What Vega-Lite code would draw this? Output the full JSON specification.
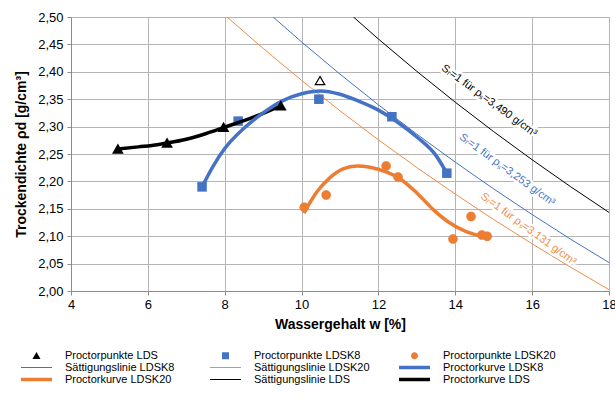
{
  "$schema": "https://vega.github.io/schema/vega-lite/v6.json",
  "width": 538,
  "height": 274,
  "autosize": {"type": "none"},
  "padding": {"left": 71, "top": 17, "right": 6, "bottom": 114},
  "background": "white",
  "config": {
    "font": "Liberation Sans",
    "view": {"stroke": "#b4b4b4", "strokeWidth": 1},
    "axis": {
      "labelFont": "Liberation Sans",
      "labelFontSize": 13,
      "labelColor": "black",
      "titleFont": "Liberation Sans",
      "titleFontSize": 14,
      "titleFontWeight": "bold",
      "titleColor": "black",
      "domainColor": "#8c8c8c",
      "tickColor": "#8c8c8c",
      "gridColor": "#b4b4b4",
      "grid": true,
      "tickSize": 4,
      "labelOverlap": false,
      "labelFlush": false
    }
  },
  "data": {
    "values": [
      {"t": "sat", "s": "Sättigungslinie LDS", "w": 11.35, "rho": 2.5},
      {"t": "sat", "s": "Sättigungslinie LDS", "w": 12, "rho": 2.4598},
      {"t": "sat", "s": "Sättigungslinie LDS", "w": 13, "rho": 2.4008},
      {"t": "sat", "s": "Sättigungslinie LDS", "w": 14, "rho": 2.3445},
      {"t": "sat", "s": "Sättigungslinie LDS", "w": 15, "rho": 2.2908},
      {"t": "sat", "s": "Sättigungslinie LDS", "w": 16, "rho": 2.2395},
      {"t": "sat", "s": "Sättigungslinie LDS", "w": 17, "rho": 2.1904},
      {"t": "sat", "s": "Sättigungslinie LDS", "w": 18, "rho": 2.1434},
      {"t": "sat", "s": "Sättigungslinie LDSK8", "w": 9.26, "rho": 2.5},
      {"t": "sat", "s": "Sättigungslinie LDSK8", "w": 10, "rho": 2.4545},
      {"t": "sat", "s": "Sättigungslinie LDSK8", "w": 11, "rho": 2.3957},
      {"t": "sat", "s": "Sättigungslinie LDSK8", "w": 12, "rho": 2.3397},
      {"t": "sat", "s": "Sättigungslinie LDSK8", "w": 13, "rho": 2.2862},
      {"t": "sat", "s": "Sättigungslinie LDSK8", "w": 14, "rho": 2.2351},
      {"t": "sat", "s": "Sättigungslinie LDSK8", "w": 15, "rho": 2.1862},
      {"t": "sat", "s": "Sättigungslinie LDSK8", "w": 16, "rho": 2.1395},
      {"t": "sat", "s": "Sättigungslinie LDSK8", "w": 17, "rho": 2.0946},
      {"t": "sat", "s": "Sättigungslinie LDSK8", "w": 18, "rho": 2.0519},
      {"t": "sat", "s": "Sättigungslinie LDSK20", "w": 8.06, "rho": 2.5},
      {"t": "sat", "s": "Sättigungslinie LDSK20", "w": 9, "rho": 2.4427},
      {"t": "sat", "s": "Sättigungslinie LDSK20", "w": 10, "rho": 2.3844},
      {"t": "sat", "s": "Sättigungslinie LDSK20", "w": 11, "rho": 2.3289},
      {"t": "sat", "s": "Sättigungslinie LDSK20", "w": 12, "rho": 2.2759},
      {"t": "sat", "s": "Sättigungslinie LDSK20", "w": 13, "rho": 2.2253},
      {"t": "sat", "s": "Sättigungslinie LDSK20", "w": 14, "rho": 2.1768},
      {"t": "sat", "s": "Sättigungslinie LDSK20", "w": 15, "rho": 2.1304},
      {"t": "sat", "s": "Sättigungslinie LDSK20", "w": 16, "rho": 2.086},
      {"t": "sat", "s": "Sättigungslinie LDSK20", "w": 17, "rho": 2.0434},
      {"t": "sat", "s": "Sättigungslinie LDSK20", "w": 18, "rho": 2.0025},
      {"t": "pt", "s": "Proctorpunkte LDS", "w": 5.22, "rho": 2.259},
      {"t": "pt", "s": "Proctorpunkte LDS", "w": 6.5, "rho": 2.27},
      {"t": "pt", "s": "Proctorpunkte LDS", "w": 7.97, "rho": 2.299},
      {"t": "pt", "s": "Proctorpunkte LDS", "w": 9.46, "rho": 2.338},
      {"t": "pt", "s": "Proctorpunkte LDSK8", "w": 7.41, "rho": 2.19},
      {"t": "pt", "s": "Proctorpunkte LDSK8", "w": 8.35, "rho": 2.31},
      {"t": "pt", "s": "Proctorpunkte LDSK8", "w": 10.45, "rho": 2.35},
      {"t": "pt", "s": "Proctorpunkte LDSK8", "w": 12.35, "rho": 2.318},
      {"t": "pt", "s": "Proctorpunkte LDSK8", "w": 13.78, "rho": 2.215},
      {"t": "pt", "s": "Proctorpunkte LDSK20", "w": 10.07, "rho": 2.153},
      {"t": "pt", "s": "Proctorpunkte LDSK20", "w": 10.64, "rho": 2.175},
      {"t": "pt", "s": "Proctorpunkte LDSK20", "w": 12.2, "rho": 2.228},
      {"t": "pt", "s": "Proctorpunkte LDSK20", "w": 12.51, "rho": 2.208},
      {"t": "pt", "s": "Proctorpunkte LDSK20", "w": 13.94, "rho": 2.095},
      {"t": "pt", "s": "Proctorpunkte LDSK20", "w": 14.41, "rho": 2.136},
      {"t": "pt", "s": "Proctorpunkte LDSK20", "w": 14.69, "rho": 2.102},
      {"t": "pt", "s": "Proctorpunkte LDSK20", "w": 14.83, "rho": 2.1},
      {"t": "extra", "s": "Proctorpunkte LDS", "w": 10.48, "rho": 2.384},
      {"t": "curve", "s": "Proctorkurve LDS", "w": 5.22, "rho": 2.259},
      {"t": "curve", "s": "Proctorkurve LDS", "w": 5.75, "rho": 2.263},
      {"t": "curve", "s": "Proctorkurve LDS", "w": 6.25, "rho": 2.267},
      {"t": "curve", "s": "Proctorkurve LDS", "w": 6.5, "rho": 2.27},
      {"t": "curve", "s": "Proctorkurve LDS", "w": 7.0, "rho": 2.277},
      {"t": "curve", "s": "Proctorkurve LDS", "w": 7.5, "rho": 2.287},
      {"t": "curve", "s": "Proctorkurve LDS", "w": 8.0, "rho": 2.299},
      {"t": "curve", "s": "Proctorkurve LDS", "w": 8.5, "rho": 2.311},
      {"t": "curve", "s": "Proctorkurve LDS", "w": 9.0, "rho": 2.324},
      {"t": "curve", "s": "Proctorkurve LDS", "w": 9.46, "rho": 2.338},
      {"t": "curve", "s": "Proctorkurve LDSK8", "w": 7.41, "rho": 2.19},
      {"t": "curve", "s": "Proctorkurve LDSK8", "w": 7.7, "rho": 2.228},
      {"t": "curve", "s": "Proctorkurve LDSK8", "w": 8.0, "rho": 2.26},
      {"t": "curve", "s": "Proctorkurve LDSK8", "w": 8.5, "rho": 2.297},
      {"t": "curve", "s": "Proctorkurve LDSK8", "w": 9.0, "rho": 2.325},
      {"t": "curve", "s": "Proctorkurve LDSK8", "w": 9.5, "rho": 2.347},
      {"t": "curve", "s": "Proctorkurve LDSK8", "w": 10.0, "rho": 2.36},
      {"t": "curve", "s": "Proctorkurve LDSK8", "w": 10.5, "rho": 2.365},
      {"t": "curve", "s": "Proctorkurve LDSK8", "w": 11.0, "rho": 2.359},
      {"t": "curve", "s": "Proctorkurve LDSK8", "w": 11.5, "rho": 2.346},
      {"t": "curve", "s": "Proctorkurve LDSK8", "w": 12.0, "rho": 2.33},
      {"t": "curve", "s": "Proctorkurve LDSK8", "w": 12.5, "rho": 2.308},
      {"t": "curve", "s": "Proctorkurve LDSK8", "w": 13.0, "rho": 2.281},
      {"t": "curve", "s": "Proctorkurve LDSK8", "w": 13.5, "rho": 2.247},
      {"t": "curve", "s": "Proctorkurve LDSK8", "w": 13.78, "rho": 2.215},
      {"t": "curve", "s": "Proctorkurve LDSK20", "w": 10.06, "rho": 2.142},
      {"t": "curve", "s": "Proctorkurve LDSK20", "w": 10.4, "rho": 2.181},
      {"t": "curve", "s": "Proctorkurve LDSK20", "w": 10.74, "rho": 2.207},
      {"t": "curve", "s": "Proctorkurve LDSK20", "w": 11.08, "rho": 2.223},
      {"t": "curve", "s": "Proctorkurve LDSK20", "w": 11.44, "rho": 2.228},
      {"t": "curve", "s": "Proctorkurve LDSK20", "w": 11.78, "rho": 2.226},
      {"t": "curve", "s": "Proctorkurve LDSK20", "w": 12.22, "rho": 2.217},
      {"t": "curve", "s": "Proctorkurve LDSK20", "w": 12.56, "rho": 2.205},
      {"t": "curve", "s": "Proctorkurve LDSK20", "w": 13.0, "rho": 2.179},
      {"t": "curve", "s": "Proctorkurve LDSK20", "w": 13.42, "rho": 2.149},
      {"t": "curve", "s": "Proctorkurve LDSK20", "w": 13.86, "rho": 2.124},
      {"t": "curve", "s": "Proctorkurve LDSK20", "w": 14.3, "rho": 2.108},
      {"t": "curve", "s": "Proctorkurve LDSK20", "w": 14.72, "rho": 2.1},
      {"t": "curve", "s": "Proctorkurve LDSK20", "w": 14.85, "rho": 2.099},
      {"t": "label", "s": "Sättigungslinie LDS", "w": 14.88, "rho": 2.347, "label": "Sᵣ=1 für ρₛ=3,490 g/cm³"},
      {"t": "label", "s": "Sättigungslinie LDSK8", "w": 15.35, "rho": 2.221, "label": "Sᵣ=1 für ρₛ=3,253 g/cm³"},
      {"t": "label", "s": "Sättigungslinie LDSK20", "w": 15.9, "rho": 2.113, "label": "Sᵣ=1 für ρₛ=3,131 g/cm³"}
    ]
  },
  "encoding": {
    "x": {
      "field": "w",
      "type": "quantitative",
      "scale": {"domain": [4, 18], "nice": false, "zero": false},
      "axis": {
        "title": "Wassergehalt w [%]",
        "values": [4, 6, 8, 10, 12, 14, 16, 18],
        "labelPadding": 3,
        "titlePadding": 6
      }
    },
    "y": {
      "field": "rho",
      "type": "quantitative",
      "scale": {"domain": [2.0, 2.5], "nice": false, "zero": false},
      "axis": {
        "title": "Trockendichte ρd [g/cm³]",
        "values": [2.0, 2.05, 2.1, 2.15, 2.2, 2.25, 2.3, 2.35, 2.4, 2.45, 2.5],
        "labelExpr": "replace(format(datum.value, '.2f'), '.', ',')",
        "labelPadding": 4,
        "titlePadding": 9
      }
    }
  },
  "layer": [
    {
      "transform": [{"filter": "datum.t == 'sat'"}],
      "mark": {"type": "line", "strokeWidth": 1, "clip": true},
      "encoding": {
        "color": {
          "field": "s",
          "type": "nominal",
          "scale": {
            "domain": ["Proctorpunkte LDS", "Proctorpunkte LDSK8", "Proctorpunkte LDSK20", "Sättigungslinie LDSK8", "Sättigungslinie LDSK20", "Proctorkurve LDSK8", "Proctorkurve LDSK20", "Sättigungslinie LDS", "Proctorkurve LDS"],
            "range": ["#000000", "#4472C4", "#ED7D31", "#4472C4", "#F28C45", "#4472C4", "#ED7D31", "#000000", "#000000"]
          },
          "legend": {
            "title": null,
            "orient": "none",
            "legendX": -50,
            "legendY": 333,
            "columns": 3,
            "direction": "horizontal",
            "gridAlign": "all",
            "columnPadding": 29,
            "rowPadding": 0,
            "padding": 0,
            "symbolSize": 100,
            "symbolStrokeWidth": 0,
            "symbolOffset": 10,
            "labelOffset": 23,
            "labelFont": "Liberation Sans",
            "labelFontSize": 11,
            "labelColor": "black",
            "labelLimit": 200
          }
        }
      }
    },
    {
      "transform": [{"filter": "datum.t == 'label'"}],
      "mark": {"type": "text", "angle": 36, "fontSize": 11, "font": "Liberation Sans", "stroke": "white", "strokeWidth": 5, "strokeJoin": "round", "align": "center", "baseline": "middle"},
      "encoding": {"text": {"field": "label"}}
    },
    {
      "transform": [{"filter": "datum.t == 'label'"}],
      "mark": {"type": "text", "angle": 36, "fontSize": 11, "font": "Liberation Sans", "align": "center", "baseline": "middle"},
      "encoding": {"text": {"field": "label"}, "color": {"field": "s", "type": "nominal"}}
    },
    {
      "transform": [{"filter": "datum.t == 'pt' && datum.s == 'Proctorpunkte LDSK8'"}],
      "mark": {"type": "point", "filled": true, "size": 185, "opacity": 1, "strokeWidth": 0},
      "encoding": {
        "color": {"field": "s", "type": "nominal"},
        "shape": {
          "field": "s",
          "type": "nominal",
          "scale": {
            "domain": ["Proctorpunkte LDS", "Proctorpunkte LDSK8", "Proctorpunkte LDSK20", "Sättigungslinie LDSK8", "Sättigungslinie LDSK20", "Proctorkurve LDSK8", "Proctorkurve LDSK20", "Sättigungslinie LDS", "Proctorkurve LDS"],
            "range": [
              "M0,-0.75L0.8,0.65L-0.8,0.65Z",
              "M-0.7,-0.7H0.7V0.7H-0.7Z",
              "M-0.7,0A0.7,0.7,0,1,0,0.7,0A0.7,0.7,0,1,0,-0.7,0Z",
              "M-3.1,-0.1H3.1V0.1H-3.1Z",
              "M-3.1,-0.1H3.1V0.1H-3.1Z",
              "M-3.1,-0.35H3.1V0.35H-3.1Z",
              "M-3.1,-0.35H3.1V0.35H-3.1Z",
              "M-3.1,-0.1H3.1V0.1H-3.1Z",
              "M-3.1,-0.35H3.1V0.35H-3.1Z"
            ]
          },
          "legend": {"title": null, "orient": "none", "legendX": -50, "legendY": 333}
        }
      }
    },
    {
      "transform": [{"filter": "datum.t == 'pt' && datum.s == 'Proctorpunkte LDSK20'"}],
      "mark": {"type": "point", "filled": true, "size": 185, "opacity": 1, "strokeWidth": 0},
      "encoding": {"color": {"field": "s", "type": "nominal"}, "shape": {"field": "s", "type": "nominal"}}
    },
    {
      "transform": [{"filter": "datum.t == 'curve'"}],
      "mark": {"type": "line", "strokeWidth": 3.5, "interpolate": "monotone", "clip": true},
      "encoding": {"color": {"field": "s", "type": "nominal"}}
    },
    {
      "transform": [{"filter": "datum.t == 'pt' && datum.s == 'Proctorpunkte LDS'"}],
      "mark": {"type": "point", "filled": true, "size": 213, "opacity": 1, "strokeWidth": 0},
      "encoding": {"color": {"field": "s", "type": "nominal"}, "shape": {"field": "s", "type": "nominal"}}
    },
    {
      "transform": [{"filter": "datum.t == 'extra'"}],
      "mark": {"type": "point", "shape": "triangle-up", "filled": false, "size": 90, "strokeWidth": 1.2, "opacity": 1, "color": "black"},
      "encoding": {}
    }
  ]
}
